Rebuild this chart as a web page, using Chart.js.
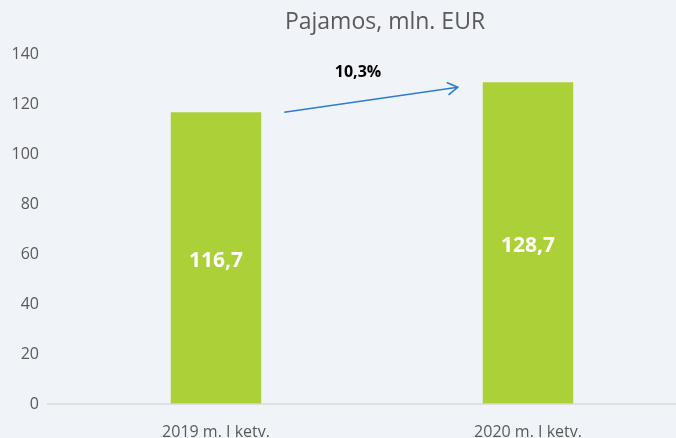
<!DOCTYPE html>
<html>
<head>
<meta charset="utf-8">
<script src="https://cdn.jsdelivr.net/npm/chart.js@4"></script>
<style>
  html, body { margin: 0; padding: 0; background: #f0f4f8; overflow: hidden; }
  #wrap { width: 684px; height: 438px; position: relative; }
</style>
</head>
<body>
<div id="wrap"><canvas id="chart"></canvas></div>
<script>
const categories = ["2019 m. I ketv.", "2020 m. I ketv."];
const values = [116.7, 128.7];
const valueLabels = ["116,7", "128,7"];
const growthLabel = "10,3%";
const titleText = "Pajamos, mln. EUR";

const textGray = "#595959";
const barGreen = "#acd037";
const arrowBlue = "#2a7dd1";

// draws the title, baseline, values inside bars and the growth arrow
const extras = {
  id: "extras",
  afterDatasetsDraw(chart) {
    const ctx = chart.ctx;
    const y = chart.scales.y;
    const area = chart.chartArea;
    ctx.save();

    ctx.fillStyle = textGray;
    ctx.font = "23px 'Open Sans', sans-serif";
    ctx.textAlign = "center";
    ctx.textBaseline = "middle";
    ctx.fillText(titleText, area.left + 325, 22);

    ctx.strokeStyle = "#d9d9d9";
    ctx.lineWidth = 1.5;
    ctx.beginPath();
    ctx.moveTo(area.left - 13, y.getPixelForValue(0));
    ctx.lineTo(area.right, y.getPixelForValue(0));
    ctx.stroke();

    const bars = chart.getDatasetMeta(0).data;
    ctx.fillStyle = "#ffffff";
    ctx.font = "bold 21px 'Open Sans', sans-serif";
    bars.forEach((b, i) => {
      ctx.fillText(valueLabels[i], b.x, (b.y + b.base) / 2 + 3);
    });

    const x0 = bars[0].x + bars[0].width / 2 + 23;
    const y0 = y.getPixelForValue(values[0]);
    const x1 = bars[1].x - bars[1].width / 2 - 25;
    const y1 = y.getPixelForValue(values[1] - 2);
    ctx.strokeStyle = arrowBlue;
    ctx.lineWidth = 1.6;
    ctx.beginPath();
    ctx.moveTo(x0, y0);
    ctx.lineTo(x1, y1);
    const ang = Math.atan2(y1 - y0, x1 - x0);
    const h = 12;
    ctx.moveTo(x1 - h * Math.cos(ang - 0.55), y1 - h * Math.sin(ang - 0.55));
    ctx.lineTo(x1, y1);
    ctx.lineTo(x1 - h * Math.cos(ang + 0.55), y1 - h * Math.sin(ang + 0.55));
    ctx.stroke();

    ctx.fillStyle = "#000000";
    ctx.font = "bold 16px 'Open Sans', sans-serif";
    ctx.fillText(growthLabel, (x0 + x1) / 2 - 13, y.getPixelForValue(132.8));
    ctx.restore();
  }
};

new Chart(document.getElementById("chart"), {
  type: "bar",
  data: {
    labels: categories,
    datasets: [{
      data: values,
      backgroundColor: barGreen,
      borderWidth: 0,
      categoryPercentage: 1,
      barPercentage: 0.29
    }]
  },
  options: {
    responsive: true,
    maintainAspectRatio: false,
    animation: false,
    layout: { padding: { top: 54, left: 0, right: 0, bottom: 0 } },
    plugins: {
      legend: { display: false },
      tooltip: { enabled: false }
    },
    scales: {
      y: {
        min: 0,
        max: 140,
        ticks: {
          stepSize: 20,
          padding: 13,
          color: textGray,
          font: { family: "'Open Sans', sans-serif", size: 16 }
        },
        grid: { display: false },
        border: { display: false },
        afterFit(s) { s.width = 60; }
      },
      x: {
        ticks: {
          padding: 11,
          color: textGray,
          font: { family: "'Open Sans', sans-serif", size: 16 }
        },
        grid: { display: false },
        border: { display: false },
        afterFit(s) { s.height = 34; }
      }
    }
  },
  plugins: [extras]
});
</script>
</body>
</html>
